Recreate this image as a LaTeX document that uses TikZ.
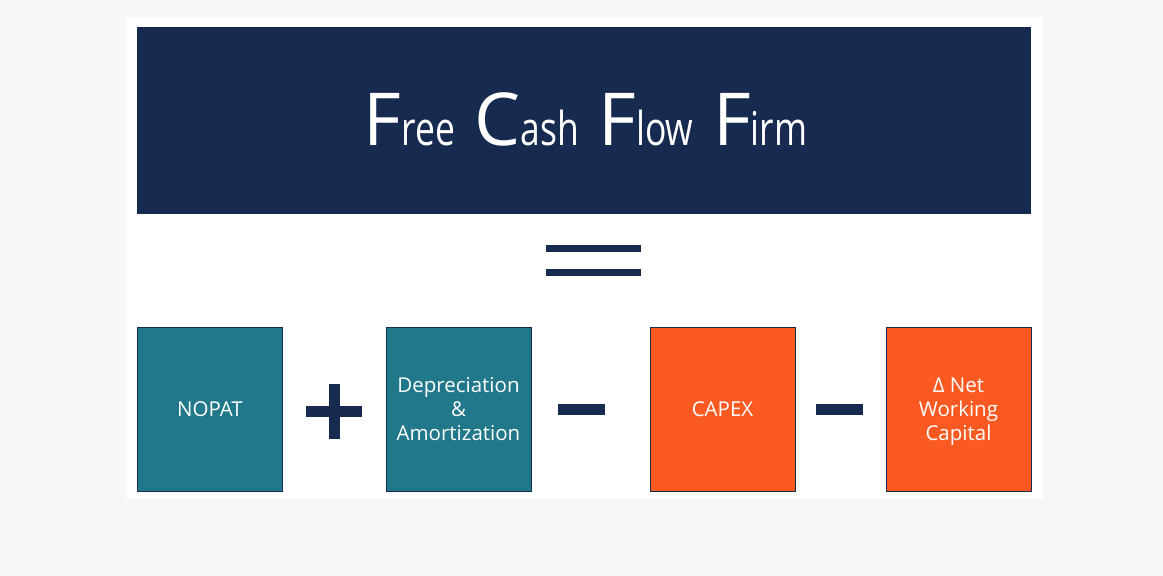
\documentclass[tikz,border=0pt]{standalone}
\usepackage{fontspec}
\setmainfont{Open Sans}
\newfontfamily\titlelow[FakeStretch=0.76]{Open Sans}
\definecolor{navy}{HTML}{172A4F}
\definecolor{teal}{HTML}{20788A}
\definecolor{orng}{HTML}{FA5A22}
\definecolor{pagebg}{HTML}{F6F7F9}
\newcommand{\bigc}[1]{{\fontsize{73}{73}\selectfont #1}}
\newcommand{\smallc}[1]{{\titlelow\fontsize{46.7}{46.7}\selectfont #1}}
\newcommand{\wgap}{\hspace{19.5pt}}
\tikzset{
  banner/.style={fill=navy, draw=none, minimum width=894pt, minimum height=187pt, inner sep=0pt},
  titletext/.style={text=white, inner sep=0pt, anchor=base},
  termbox/.style={draw=navy, line width=1pt, minimum width=145pt, minimum height=164pt, inner sep=0pt,
     anchor=north west, text=white, align=center, font=\fontsize{20.5}{24}\selectfont},
  tealbox/.style={termbox, fill=teal},
  orngbox/.style={termbox, fill=orng},
  opbar/.style={fill=navy}
}
\begin{document}
\begin{tikzpicture}[x=1pt,y=-1pt]
\useasboundingbox (0,0) rectangle (1163,576);
\fill[pagebg] (0,0) rectangle (1163,576);
\fill[white] (126,18) rectangle (1042.5,499);
\node[banner] (banner) at (584,120.7) {};
\node[titletext] (title) at (585.5,145) {\bigc{F}\smallc{ree}\wgap\bigc{C}\smallc{ash}\wgap\bigc{F}\smallc{low}\wgap\bigc{F}\smallc{irm}};
% equals
\fill[opbar] (546,245) rectangle (641,252);
\fill[opbar] (546,269) rectangle (641,276);
% boxes
\node[tealbox] (nopat) at (137,326.5) {NOPAT};
\node[tealbox] (da) at (385.5,326.5) {Depreciation\\\&\\Amortization};
\node[orngbox] (capex) at (649.5,326.5) {CAPEX};
\node[orngbox] (nwc) at (885.5,326.5) {Δ Net\\Working\\Ca\smash{p}ital};
% plus
\fill[opbar] (306,406) rectangle (362,417);
\fill[opbar] (328.5,383.5) rectangle (339.5,439);
% minus
\fill[opbar] (557.5,404) rectangle (604.5,414.5);
\fill[opbar] (816,404) rectangle (863,414.5);
\end{tikzpicture}
\end{document}
